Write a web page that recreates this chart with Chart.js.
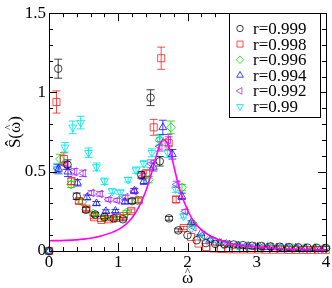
<!DOCTYPE html>
<html><head><meta charset="utf-8">
<script src="https://cdn.jsdelivr.net/npm/chart.js@4"></script>
<style>html,body{margin:0;padding:0;background:#fff;overflow:hidden}</style>
</head><body>
<canvas id="c" width="332" height="288" style="width:332px;height:288px;display:block"></canvas>
<script>
// ---------- data ----------
const seriesLabels = ['r=0.999','r=0.998','r=0.996','r=0.994','r=0.992','r=0.99'];

const x999 = [0,0.133,0.267,0.4,0.533,0.667,0.8,0.933,1.067,1.2,1.333,1.467,1.6,1.733,1.867,2,2.133,2.267,2.4,2.533,2.667,2.8,2.933,3.067,3.2,3.333,3.467,3.6,3.733,3.867,4];
const y999 = [0,1.15,0.545,0.345,0.26,0.23,0.215,0.205,0.2,0.315,0.48,0.967,0.566,0.206,0.13,0.1,0.068,0.05,0.045,0.043,0.041,0.037,0.033,0.031,0.029,0.027,0.025,0.023,0.021,0.02,0.019];
const e999 = [0.004,0.06,0.03,0.02,0.015,0.012,0.01,0.01,0.01,0.015,0.02,0.05,0.03,0.012,0.01,0.008,0.006,0.005,0.005,0.004,0.004,0.004,0.004,0.003,0.003,0.003,0.003,0.003,0.003,0.003,0.003];

const x998 = [0,0.108,0.216,0.324,0.432,0.54,0.648,0.756,0.864,0.972,1.08,1.188,1.296,1.404,1.512,1.62,1.728,1.836,1.944,2.052,2.16,2.268,2.376,2.484,2.592,2.7,2.808,2.916,3.024,3.132,3.24,3.348,3.456,3.564,3.672,3.78,3.888,3.996];
const y998 = [0,0.94,0.58,0.44,0.315,0.267,0.213,0.196,0.2,0.208,0.22,0.253,0.32,0.49,0.78,1.216,0.68,0.325,0.145,0.088,0.047,0.025,0.016,0.013,0.011,0.01,0.01,0.009,0.009,0.008,0.008,0.008,0.007,0.007,0.007,0.006,0.006,0.006];
const e998 = [0.004,0.07,0.04,0.02,0.015,0.012,0.01,0.01,0.01,0.01,0.01,0.012,0.015,0.02,0.05,0.07,0.04,0.02,0.01,0.008,0.005,0.004,0.003,0.003,0.003,0.003,0.003,0.003,0.003,0.003,0.003,0.003,0.003,0.003,0.003,0.003,0.003,0.003];

const x996 = [0,0.16,0.32,0.48,0.64,0.8,0.96,1.12,1.28,1.44,1.6,1.76,1.92,2.08,2.24,2.4,2.56,2.72,2.88,3.04,3.2,3.36,3.52,3.68,3.84,4];
const y996 = [0,0.58,0.42,0.31,0.236,0.208,0.208,0.243,0.32,0.45,0.7,0.78,0.4,0.17,0.1,0.06,0.045,0.035,0.03,0.026,0.023,0.021,0.019,0.018,0.017,0.016];
const e996 = [0.004,0.03,0.02,0.015,0.012,0.01,0.01,0.012,0.015,0.02,0.035,0.04,0.02,0.01,0.006,0.005,0.004,0.004,0.003,0.003,0.003,0.003,0.003,0.003,0.003,0.003];

const x994 = [0,0.137,0.274,0.411,0.548,0.685,0.822,0.959,1.096,1.233,1.37,1.507,1.644,1.781,1.918,2.055,2.192,2.329,2.466,2.603,2.74,2.877,3.014,3.151,3.288,3.425,3.562,3.699,3.836,3.973];
const y994 = [0,0.517,0.5,0.43,0.338,0.3,0.25,0.252,0.31,0.38,0.44,0.53,0.78,0.61,0.345,0.18,0.11,0.07,0.05,0.04,0.034,0.03,0.027,0.024,0.022,0.02,0.019,0.018,0.017,0.016];
const e994 = [0.004,0.03,0.03,0.02,0.015,0.012,0.01,0.01,0.012,0.015,0.02,0.025,0.045,0.03,0.02,0.01,0.006,0.005,0.004,0.004,0.003,0.003,0.003,0.003,0.003,0.003,0.003,0.003,0.003,0.003];

const x992 = [0,0.123,0.246,0.369,0.492,0.615,0.738,0.861,0.984,1.107,1.23,1.353,1.476,1.599,1.722,1.845,1.968,2.091,2.214,2.337,2.46,2.583,2.706,2.829,2.952,3.075,3.198,3.321,3.444,3.567,3.69,3.813,3.936];
const y992 = [0,0.52,0.54,0.5,0.49,0.366,0.36,0.325,0.32,0.34,0.377,0.47,0.55,0.66,0.7,0.42,0.25,0.15,0.1,0.07,0.052,0.042,0.036,0.032,0.029,0.026,0.024,0.022,0.021,0.02,0.019,0.018,0.017];
const e992 = [0.004,0.025,0.025,0.02,0.02,0.015,0.015,0.012,0.012,0.012,0.015,0.02,0.025,0.03,0.035,0.02,0.012,0.008,0.006,0.005,0.004,0.004,0.003,0.003,0.003,0.003,0.003,0.003,0.003,0.003,0.003,0.003,0.003];

const x990 = [0,0.114,0.229,0.343,0.457,0.571,0.686,0.8,0.914,1.029,1.143,1.257,1.371,1.486,1.6,1.714,1.829,1.943,2.057,2.171,2.286,2.4,2.514,2.629,2.743,2.857,2.971,3.086,3.2,3.314,3.429,3.543,3.657,3.771,3.886,4];
const y990 = [0,0.52,0.654,0.78,0.81,0.62,0.53,0.44,0.377,0.37,0.45,0.51,0.55,0.62,0.7,0.62,0.39,0.22,0.14,0.09,0.065,0.05,0.04,0.034,0.03,0.027,0.025,0.023,0.021,0.02,0.019,0.018,0.017,0.016,0.015,0.015];
const e990 = [0.004,0.03,0.03,0.04,0.04,0.03,0.025,0.02,0.015,0.015,0.015,0.02,0.02,0.025,0.03,0.03,0.02,0.012,0.008,0.006,0.005,0.004,0.004,0.003,0.003,0.003,0.003,0.003,0.003,0.003,0.003,0.003,0.003,0.003,0.003,0.003];

// fit curve (magenta)
const fitX = [0,0.25,0.5,0.75,1.0,1.1,1.2,1.3,1.4,1.5,1.55,1.6,1.65,1.7,1.75,1.8,1.85,1.9,2.0,2.1,2.2,2.35,2.6,3.0,3.5,4.0];
const fitY = [0.065,0.067,0.075,0.095,0.135,0.165,0.21,0.28,0.38,0.52,0.6,0.67,0.705,0.685,0.63,0.54,0.45,0.37,0.26,0.18,0.135,0.09,0.05,0.025,0.012,0.007];

const xTickLabels = ['0','1','2','3','4'];
const yTickLabels = ['0','0.5','1','1.5'];
const xTitle = 'ω̂';
const yTitle = 'Ŝ(ω̂)';

// ---------- styles ----------
const colors = ['rgba(0,0,0,0.75)','rgba(255,0,0,0.7)','rgba(0,220,0,0.8)','rgba(0,0,255,0.75)','rgba(160,32,240,0.75)','rgba(0,230,230,0.85)'];
const pStyles = ['circle','rect','rectRot','triangle','triangle','triangle'];
const pRot = [0,0,0,0,-90,180];
const pRad = [3.8,5,4.5,4.5,4.5,4.5];
const xs = [x999,x998,x996,x994,x992,x990];
const ys = [y999,y998,y996,y994,y992,y990];
const es = [e999,e998,e996,e994,e992,e990];

const SERIF = '"Liberation Serif","DejaVu Serif",serif';

const datasets = seriesLabels.map((lab,i)=>({
  type:'scatter', label:lab,
  data: xs[i].map((x,j)=>({x:x,y:ys[i][j],e:es[i][j]})),
  pointStyle:pStyles[i], rotation:pRot[i], pointRadius:pRad[i],
  borderColor:colors[i], backgroundColor:'rgba(0,0,0,0)', pointBorderWidth:1,
  showLine:false, clip:false, order:1
}));
datasets.push({
  type:'line', label:'fit', data: fitX.map((x,j)=>({x:x,y:fitY[j]})),
  borderColor:'#ff00ff', borderWidth:1.6, pointRadius:0, fill:false,
  cubicInterpolationMode:'monotone', order:0
});

// draws text whose hatted letters are written as base + U+0302; the hat is a small '^' placed over the base glyph
function hatText(ctx, text, cx, baseY){
  const parts = [];
  for (const ch of text){
    if (ch === '\u0302' && parts.length) parts[parts.length-1].hat = true;
    else parts.push({ch, hat:false});
  }
  const plain = parts.map(p=>p.ch).join('');
  ctx.font = '17px '+SERIF;
  const w = ctx.measureText(plain).width;
  let x = cx - w/2;
  ctx.textAlign = 'left'; ctx.textBaseline = 'alphabetic';
  parts.forEach(p=>{
    ctx.font = '17px '+SERIF;
    const cw = ctx.measureText(p.ch).width;
    ctx.fillText(p.ch, x, baseY);
    if (p.hat){
      ctx.font = '11px '+SERIF;
      ctx.textAlign = 'center';
      ctx.fillText('^', x + cw/2, baseY - 8);
      ctx.textAlign = 'left';
    }
    x += cw;
  });
}

const deco = {
  id:'deco',
  beforeDatasetsDraw(chart){
    const {ctx, chartArea:a, scales:{x,y}} = chart;
    ctx.save();
    ctx.beginPath(); ctx.rect(a.left-1,a.top-1,a.right-a.left+2,a.bottom-a.top+2); ctx.clip();
    ctx.lineWidth = 1;
    chart.data.datasets.forEach((ds,i)=>{
      if(ds.type!=='scatter') return;
      ctx.strokeStyle = colors[i];
      ds.data.forEach(p=>{
        if(!p.e) return;
        const px = x.getPixelForValue(p.x);
        const y1 = y.getPixelForValue(p.y - p.e), y2 = y.getPixelForValue(p.y + p.e);
        if (Math.abs(y1-y2) < 3) return;
        ctx.beginPath();
        ctx.moveTo(px,y1); ctx.lineTo(px,y2);
        ctx.moveTo(px-4,y1); ctx.lineTo(px+4,y1);
        ctx.moveTo(px-4,y2); ctx.lineTo(px+4,y2);
        ctx.stroke();
      });
    });
    ctx.restore();
  },
  afterDraw(chart){
    const {ctx, chartArea:a, scales:{x,y}} = chart;
    ctx.save();
    ctx.strokeStyle = '#000'; ctx.lineWidth = 1;
    // frame
    ctx.strokeRect(Math.round(a.left)+0.5, Math.round(a.top)+0.5, Math.round(a.right-a.left), Math.round(a.bottom-a.top));
    // ticks (inward, mirrored)
    ctx.beginPath();
    for (let i=0;i<=20;i++){
      const v = i*0.2; const px = Math.round(x.getPixelForValue(v))+0.5;
      const L = (i%5===0)?8:4;
      ctx.moveTo(px,a.bottom); ctx.lineTo(px,a.bottom-L);
      ctx.moveTo(px,a.top); ctx.lineTo(px,a.top+L);
    }
    for (let i=0;i<=15;i++){
      const v = i*0.1; const py = Math.round(y.getPixelForValue(v))+0.5;
      const L = (i%5===0)?8:4;
      ctx.moveTo(a.left,py); ctx.lineTo(a.left+L,py);
      ctx.moveTo(a.right,py); ctx.lineTo(a.right-L,py);
    }
    ctx.stroke();
    // axis titles
    ctx.fillStyle = '#000';
    hatText(ctx, xTitle, (a.left+a.right)/2, 283);
    ctx.save();
    ctx.translate(20, (a.top+a.bottom)/2);
    ctx.rotate(-Math.PI/2);
    hatText(ctx, yTitle, 0, 0);
    ctx.restore();
    // legend
    const bx=229.5, by=13.5, bw=91, bh=104;
    ctx.fillStyle='#fff'; ctx.fillRect(bx,by,bw,bh);
    ctx.strokeStyle='#000'; ctx.strokeRect(bx,by,bw,bh);
    ctx.font = '17px '+SERIF;
    seriesLabels.forEach((lab,i)=>{
      const ry = 28.5 + i*15.6;
      ctx.strokeStyle = colors[i]; ctx.fillStyle = 'rgba(0,0,0,0)'; ctx.lineWidth=1;
      Chart.helpers.drawPoint(ctx,{pointStyle:pStyles[i],rotation:pRot[i],radius:pRad[i]*0.85,borderWidth:1},240,ry);
      ctx.fillStyle='#000'; ctx.textBaseline='middle'; ctx.textAlign='left';
      ctx.fillText(lab,253,ry+1);
    });
    ctx.restore();
  }
};

new Chart(document.getElementById('c'),{
  data:{datasets},
  options:{
    responsive:false, animation:false, devicePixelRatio:1,
    layout:{padding:{top:8,right:5,left:0,bottom:0}},
    plugins:{legend:{display:false},tooltip:{enabled:false}},
    scales:{
      x:{type:'linear',min:0,max:4,
        ticks:{stepSize:1,color:'#000',font:{family:SERIF,size:17},padding:1,maxRotation:0,
          callback:(v)=>{const k=Math.round(v); return Math.abs(v-k)<1e-6?xTickLabels[k]:'';}},
        grid:{display:false,drawTicks:false,tickLength:0}, border:{display:false},
        afterFit(s){s.height=37;}
      },
      y:{type:'linear',min:0,max:1.5,
        ticks:{stepSize:0.5,color:'#000',font:{family:SERIF,size:17},padding:3,
          callback:(v)=>{const k=Math.round(v*2); return Math.abs(v*2-k)<1e-6?yTickLabels[k]:'';}},
        grid:{display:false,drawTicks:false,tickLength:0}, border:{display:false},
        afterFit(s){s.width=49;}
      }
    }
  },
  plugins:[deco]
});
</script>
</body></html>
